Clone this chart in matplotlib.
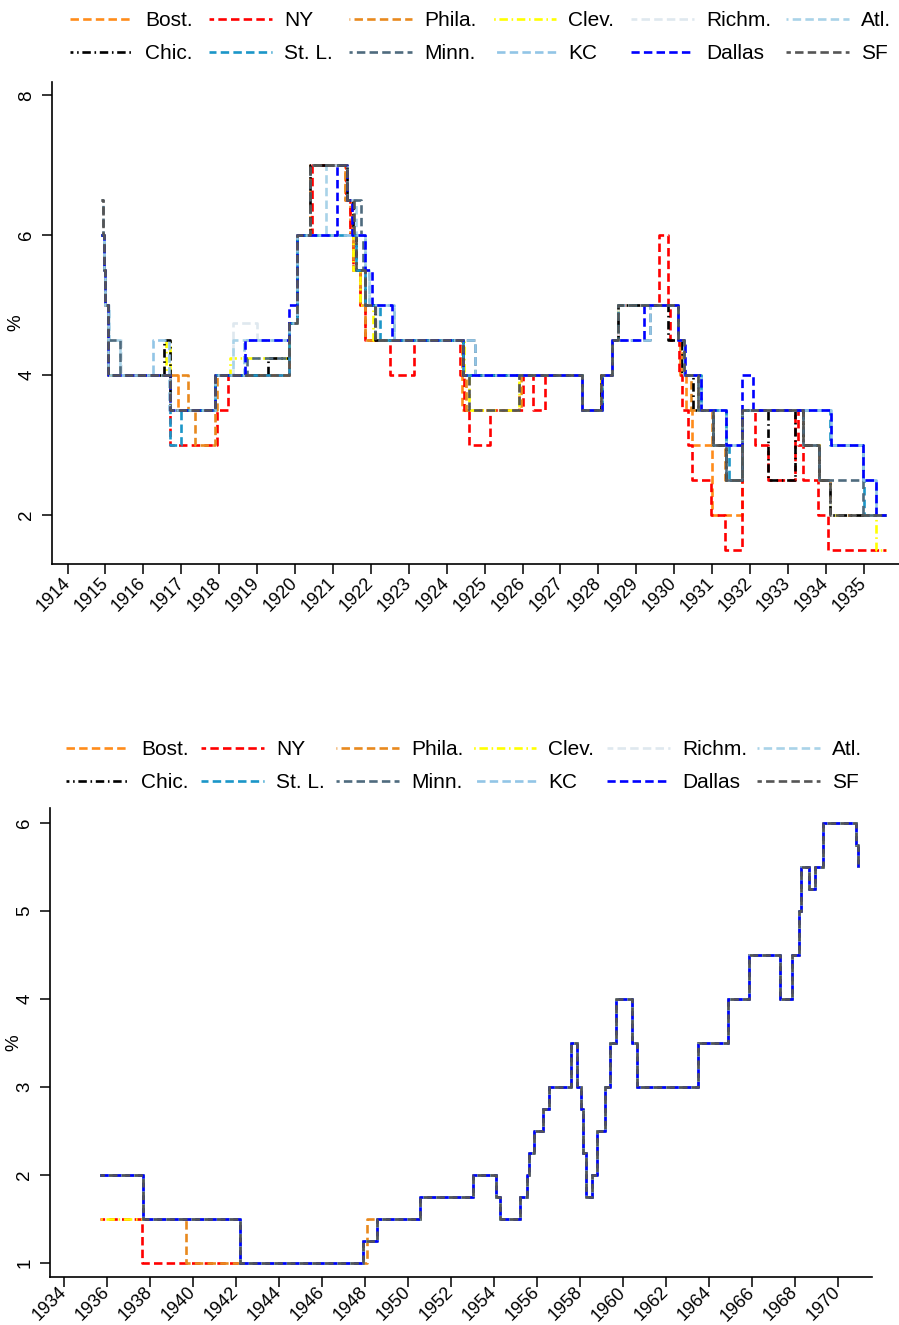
import matplotlib
matplotlib.use("Agg")
import matplotlib.pyplot as plt

plt.rcParams['font.family'] = ['Liberation Sans', 'DejaVu Sans']

# ---------------------------------------------------------------------------
# Federal Reserve Bank discount rates (%), step changes as (year, rate)
# ---------------------------------------------------------------------------
BANKS = ["Bost.", "NY", "Phila.", "Clev.", "Richm.", "Atl.",
         "Chic.", "St. L.", "Minn.", "KC", "Dallas", "SF"]

COLORS = ["#ff8c1a", "#ff0000", "#e8891e", "#ffff00", "#dfe8ef", "#a9d3e8",
          "#000000", "#1b96c8", "#4f6b7e", "#92c5e6", "#0000ff", "#555555"]

DASH = (3.2, 1.6)
DASHDOT = (3.2, 1.4, 0.6, 1.4)
STYLES = [DASH, DASH, DASH, DASHDOT, DASH, DASH,
          DASHDOT, DASH, DASH, DASH, DASH, DASH]

END_1935 = 1935.6
START_1935 = 1935.7
END_1970 = 1970.95

bost_1914 = [(1914.88, 6.0), (1914.95, 5.5), (1915.0, 5.0), (1915.08, 4.0),
             (1916.91, 3.5), (1917.9, 4.0), (1919.84, 4.75), (1920.04, 6.0),
             (1920.4, 7.0), (1921.33, 6.5), (1921.45, 6.0), (1921.53, 5.5),
             (1921.72, 5.0), (1921.85, 4.5), (1924.4, 3.5), (1925.9, 4.0),
             (1927.58, 3.5), (1928.08, 4.0), (1928.35, 4.5), (1928.53, 5.0),
             (1930.1, 4.5), (1930.15, 4.0), (1930.3, 3.5), (1930.47, 3.0),
             (1931.0, 2.0), (1931.8, 3.5), (1933.4, 3.0), (1933.82, 2.5),
             (1934.1, 2.0)]

ny_1914 = [(1914.88, 6.0), (1914.95, 5.5), (1915.0, 5.0), (1915.08, 4.0),
           (1916.7, 3.0), (1917.95, 3.5), (1918.24, 4.0), (1919.84, 4.75),
           (1920.04, 6.0), (1920.45, 7.0), (1921.35, 6.5), (1921.45, 6.0),
           (1921.53, 5.5), (1921.72, 5.0), (1921.85, 4.5), (1922.5, 4.0),
           (1923.14, 4.5), (1924.35, 4.0), (1924.45, 3.5), (1924.6, 3.0),
           (1925.15, 3.5), (1926.0, 4.0), (1926.28, 3.5), (1926.6, 4.0),
           (1927.58, 3.5), (1928.08, 4.0), (1928.35, 4.5), (1928.53, 5.0),
           (1929.6, 6.0), (1929.84, 5.0), (1929.88, 4.5), (1930.12, 4.0),
           (1930.2, 3.5), (1930.37, 3.0), (1930.47, 2.5), (1930.97, 2.0),
           (1931.35, 1.5), (1931.78, 2.5), (1931.8, 3.5), (1932.14, 3.0),
           (1932.47, 2.5), (1933.2, 3.5), (1933.27, 3.0), (1933.4, 2.5),
           (1933.8, 2.0), (1934.07, 1.5)]

phila_1914 = [(1914.88, 6.0), (1914.95, 5.5), (1915.0, 5.0), (1915.08, 4.0),
              (1917.17, 3.5), (1917.36, 3.0), (1917.9, 3.5), (1917.95, 4.0),
              (1919.84, 4.75), (1920.04, 6.0), (1920.4, 7.0), (1921.33, 6.5),
              (1921.5, 6.0), (1921.53, 5.5), (1921.72, 5.0), (1921.85, 4.5),
              (1924.4, 4.0), (1924.5, 3.5), (1925.95, 4.0), (1927.58, 3.5),
              (1928.08, 4.0), (1928.35, 4.5), (1928.53, 5.0), (1930.1, 4.5),
              (1930.2, 4.0), (1930.45, 3.5), (1931.0, 3.0), (1931.35, 2.5),
              (1931.8, 3.5), (1933.4, 3.0), (1933.82, 2.5), (1934.1, 2.0)]

clev_1914 = [(1914.88, 6.0), (1914.95, 5.5), (1915.0, 5.0), (1915.08, 4.0),
             (1916.6, 4.5), (1916.69, 3.5), (1917.9, 4.0), (1918.28, 4.25),
             (1919.84, 4.75), (1920.04, 6.0), (1921.53, 5.5), (1921.72, 5.0),
             (1922.05, 4.5), (1924.45, 4.0), (1924.6, 3.5), (1925.9, 4.0),
             (1927.58, 3.5), (1928.08, 4.0), (1928.35, 4.5), (1928.53, 5.0),
             (1930.1, 4.5), (1930.25, 4.0), (1930.62, 3.5), (1931.02, 3.0),
             (1931.8, 3.5), (1933.4, 3.0), (1933.82, 2.5), (1934.1, 2.0),
             (1935.33, 1.5)]

richm_1914 = [(1914.88, 6.0), (1914.95, 5.5), (1915.0, 5.0), (1915.1, 4.5),
              (1915.4, 4.0), (1916.69, 3.5), (1917.9, 4.0), (1918.37, 4.75),
              (1919.0, 4.5), (1919.84, 4.75), (1920.04, 6.0), (1921.6, 5.5),
              (1921.85, 5.0), (1922.15, 4.5), (1924.43, 4.0), (1927.58, 3.5),
              (1928.1, 4.0), (1928.35, 4.5), (1928.53, 5.0), (1930.1, 4.5),
              (1930.25, 4.0), (1930.65, 3.5), (1931.02, 3.0), (1931.8, 3.5),
              (1933.4, 3.0), (1933.82, 2.5), (1934.1, 2.0)]

atl_1914 = [(1914.88, 6.0), (1914.95, 5.5), (1915.0, 5.0), (1915.1, 4.5),
            (1915.38, 4.0), (1916.69, 3.5), (1917.9, 4.0), (1918.36, 4.5),
            (1919.84, 4.75), (1920.04, 6.0), (1920.83, 7.0), (1921.36, 6.5),
            (1921.6, 6.0), (1921.85, 5.5), (1921.95, 5.0), (1922.6, 4.5),
            (1924.43, 4.0), (1927.58, 3.5), (1928.1, 4.0), (1928.35, 4.5),
            (1928.53, 5.0), (1930.1, 4.5), (1930.25, 4.0), (1930.7, 3.5),
            (1931.37, 3.0), (1931.8, 3.5), (1934.13, 3.0), (1934.97, 2.5),
            (1935.33, 2.0)]

chic_1914 = [(1914.88, 6.0), (1914.95, 5.5), (1915.0, 5.0), (1915.08, 4.0),
             (1916.55, 4.5), (1916.69, 3.5), (1917.9, 4.0), (1919.3, 4.25),
             (1919.84, 4.75), (1920.04, 6.0), (1920.4, 7.0), (1921.36, 6.5),
             (1921.53, 6.0), (1921.6, 5.5), (1921.85, 5.0), (1922.1, 4.5),
             (1924.43, 4.0), (1927.58, 3.5), (1928.08, 4.0), (1928.35, 4.5),
             (1928.53, 5.0), (1929.85, 4.5), (1930.2, 4.0), (1930.5, 3.5),
             (1931.02, 3.0), (1931.37, 2.5), (1931.8, 3.5), (1932.47, 2.5),
             (1933.2, 3.5), (1933.4, 3.0), (1933.82, 2.5), (1934.1, 2.0)]

stl_1914 = [(1914.88, 6.0), (1914.95, 5.5), (1915.0, 5.0), (1915.08, 4.0),
            (1916.69, 3.0), (1916.99, 3.5), (1917.9, 4.0), (1919.84, 4.75),
            (1920.04, 6.0), (1921.6, 5.5), (1921.85, 5.0), (1922.25, 4.5),
            (1924.43, 4.0), (1927.58, 3.5), (1928.1, 4.0), (1928.35, 4.5),
            (1928.53, 5.0), (1930.1, 4.5), (1930.25, 4.0), (1930.7, 3.5),
            (1931.37, 3.0), (1931.45, 2.5), (1931.8, 3.5), (1934.1, 3.0),
            (1934.97, 2.5), (1935.0, 2.0)]

minn_1914 = [(1914.88, 6.5), (1914.93, 6.0), (1914.96, 5.5), (1915.0, 5.0),
             (1915.08, 4.5), (1915.38, 4.0), (1916.69, 3.5), (1917.9, 4.0),
             (1918.74, 4.25), (1919.84, 4.75), (1920.04, 6.0), (1920.4, 7.0),
             (1921.36, 6.5), (1921.75, 6.0), (1921.8, 5.5), (1921.85, 5.0),
             (1922.1, 4.5), (1924.75, 4.0), (1927.58, 3.5), (1928.1, 4.0),
             (1928.35, 4.5), (1929.37, 5.0), (1930.1, 4.5), (1930.25, 4.0),
             (1930.62, 3.5), (1931.02, 3.0), (1931.37, 2.5), (1931.8, 3.5),
             (1933.4, 3.0), (1933.82, 2.5), (1934.97, 2.0)]

kc_1914 = [(1914.88, 6.0), (1914.95, 5.5), (1915.0, 5.0), (1915.08, 4.0),
           (1916.26, 4.5), (1916.68, 3.5), (1917.9, 4.0), (1918.65, 4.5),
           (1919.84, 4.75), (1920.04, 6.0), (1921.85, 5.5), (1921.95, 5.0),
           (1922.6, 4.5), (1924.75, 4.0), (1927.58, 3.5), (1928.1, 4.0),
           (1928.35, 4.5), (1929.37, 5.0), (1930.1, 4.5), (1930.25, 4.0),
           (1930.7, 3.5), (1931.37, 3.0), (1931.8, 3.5), (1934.13, 3.0),
           (1934.97, 2.5), (1935.33, 2.0)]

dallas_1914 = [(1914.88, 6.0), (1914.95, 5.5), (1915.0, 5.0), (1915.08, 4.0),
               (1916.69, 3.5), (1917.9, 4.0), (1918.68, 4.5), (1919.84, 5.0),
               (1920.04, 6.0), (1921.1, 7.0), (1921.36, 6.5), (1921.5, 6.0),
               (1921.85, 5.5), (1922.02, 5.0), (1922.55, 4.5), (1924.43, 4.0),
               (1927.58, 3.5), (1928.1, 4.0), (1928.35, 4.5), (1929.2, 5.0),
               (1930.1, 4.5), (1930.28, 4.0), (1930.7, 3.5), (1931.37, 3.0),
               (1931.8, 4.0), (1932.08, 3.5), (1934.13, 3.0), (1934.97, 2.5),
               (1935.33, 2.0)]

sf_1914 = [(1914.88, 6.5), (1914.93, 6.0), (1914.96, 5.5), (1915.0, 5.0),
           (1915.08, 4.0), (1916.69, 3.5), (1917.9, 4.0), (1919.84, 4.75),
           (1920.04, 6.0), (1920.4, 7.0), (1921.36, 6.5), (1921.55, 6.0),
           (1921.6, 5.5), (1921.85, 5.0), (1922.1, 4.5), (1924.43, 4.0),
           (1924.6, 3.5), (1925.9, 4.0), (1927.58, 3.5), (1928.08, 4.0),
           (1928.35, 4.5), (1928.53, 5.0), (1930.1, 4.5), (1930.25, 4.0),
           (1930.62, 3.5), (1931.02, 3.0), (1931.37, 2.5), (1931.8, 3.5),
           (1933.4, 3.0), (1933.82, 2.5), (1934.1, 2.0)]

# 1935 onwards: bank-specific early steps, then a common post-1948 schedule
ny_1935 = [(START_1935, 1.5), (1937.65, 1.0), (1947.93, 1.25)]
clev_1935 = [(START_1935, 1.5), (1942.2, 1.0), (1947.93, 1.25)]
phila_1935 = [(START_1935, 2.0), (1937.7, 1.5), (1939.7, 1.0), (1948.1, 1.5)]
other_1935 = [(START_1935, 2.0), (1937.7, 1.5), (1942.2, 1.0), (1947.93, 1.25)]

postwar = [(1948.6, 1.5), (1950.6, 1.75), (1953.05, 2.0), (1954.1, 1.75),
           (1954.3, 1.5), (1955.25, 1.75), (1955.55, 2.0), (1955.65, 2.25),
           (1955.9, 2.5), (1956.3, 2.75), (1956.6, 3.0), (1957.6, 3.5),
           (1957.88, 3.0), (1958.05, 2.75), (1958.15, 2.25), (1958.3, 1.75),
           (1958.6, 2.0), (1958.8, 2.5), (1959.2, 3.0), (1959.42, 3.5),
           (1959.7, 4.0), (1960.45, 3.5), (1960.65, 3.0), (1963.5, 3.5),
           (1964.9, 4.0), (1965.9, 4.5), (1967.3, 4.0), (1967.9, 4.5),
           (1968.2, 5.0), (1968.3, 5.5), (1968.65, 5.25), (1968.97, 5.5),
           (1969.3, 6.0), (1970.85, 5.75), (1970.93, 5.5)]

SERIES_1914 = [bost_1914, ny_1914, phila_1914, clev_1914, richm_1914, atl_1914,
               chic_1914, stl_1914, minn_1914, kc_1914, dallas_1914, sf_1914]
SERIES_1935 = [other_1935, ny_1935, phila_1935, clev_1935, other_1935, other_1935,
               other_1935, other_1935, other_1935, other_1935, other_1935, other_1935]

YEARS_TOP = list(range(1914, 1936))
YEARS_BOTTOM = list(range(1934, 1971, 2))
YTICKS_TOP = [2, 4, 6, 8]
YTICKS_BOTTOM = [1, 2, 3, 4, 5, 6]

FIG_W, FIG_H = 899, 1325


def step_xy(points, end):
    xs = [p[0] for p in points] + [end]
    ys = [p[1] for p in points] + [points[-1][1]]
    return xs, ys


def line_style(i):
    # each series gets its own dash phase so overlapping paths show every colour
    pattern = STYLES[i]
    period = sum(pattern)
    return (((i * 1.45) % period), pattern)


fig = plt.figure(figsize=(FIG_W / 100, FIG_H / 100), dpi=100)
ax1 = fig.add_axes([52 / FIG_W, 1 - 564 / FIG_H, 1 - 52 / FIG_W, (564 - 82) / FIG_H])
ax2 = fig.add_axes([50 / FIG_W, 1 - 1277 / FIG_H, (872 - 50) / FIG_W, (1277 - 808) / FIG_H])


def style_axes(ax, xticks, yticks, xlim, ylim, label_x, xpad):
    for side in ("top", "right"):
        ax.spines[side].set_visible(False)
    for side in ("left", "bottom"):
        ax.spines[side].set_linewidth(1.2)
    ax.set_xlim(*xlim)
    ax.set_ylim(*ylim)
    ax.set_xticks(xticks)
    ax.set_xticklabels([str(y) for y in xticks], rotation=45, ha="right",
                       va="center", rotation_mode="anchor", fontsize=13)
    ax.set_yticks(yticks)
    ax.set_yticklabels([str(y) for y in yticks], rotation=90, va="center",
                       fontsize=13.5)
    ax.tick_params(axis="x", direction="out", length=7, width=1.1, pad=xpad)
    ax.tick_params(axis="y", direction="out", length=7, width=1.1, pad=5)
    ax.set_ylabel("%", fontsize=13.5)
    ax.yaxis.set_label_coords(label_x, 0.5)


handles = []
for i, name in enumerate(BANKS):
    ls = line_style(i)
    x, y = step_xy(SERIES_1914[i], END_1935)
    ln, = ax1.step(x, y, where="post", color=COLORS[i], lw=1.9, linestyle=ls,
                   label=name)
    handles.append(ln)
    pts = SERIES_1935[i] + postwar
    x2, y2 = step_xy(pts, END_1970)
    ax2.step(x2, y2, where="post", color=COLORS[i], lw=1.9, linestyle=ls)

style_axes(ax1, YEARS_TOP, YTICKS_TOP, (1913.59, 1935.93), (1.30, 8.19),
           (24 - 52) / (FIG_W - 52), 5)
style_axes(ax2, YEARS_BOTTOM, YTICKS_BOTTOM, (1933.37, 1971.6), (0.84, 6.17),
           (22 - 50) / (872 - 50), 2.2)


def column_legends(col_x, top_px):
    # one two-entry legend per column: first-row bank above second-row bank
    for col, xpx in enumerate(col_x):
        pair = [handles[col], handles[col + 6]]
        names = [BANKS[col], BANKS[col + 6]]
        fig.legend(pair, names, loc="upper left",
                   bbox_to_anchor=(xpx / FIG_W, 1 - top_px / FIG_H),
                   frameon=False, fontsize=15, handlelength=3.0,
                   handletextpad=0.6, labelspacing=0.68, borderpad=0,
                   borderaxespad=0)


column_legends([70, 209, 349, 493, 631, 786], 11)
column_legends([66, 201, 336, 473, 607, 757], 740)

fig.savefig("out.png", dpi=100)
